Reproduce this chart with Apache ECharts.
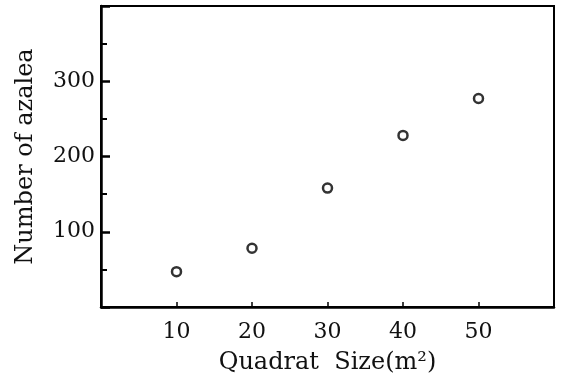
<!DOCTYPE html>
<html>
<head>
<meta charset="utf-8">
<script src="https://cdn.jsdelivr.net/npm/echarts@6/dist/echarts.min.js"></script>
<style>html,body{margin:0;padding:0;background:#fff}#c{width:563px;height:380px}</style>
</head>
<body>
<div id="c"></div>
<script>
const quadratSize = [10, 20, 30, 40, 50];
const azaleaCount = [47, 78, 158, 228, 277];
const xTickLabels = [10, 20, 30, 40, 50];
const yTickLabels = [100, 200, 300];

const chart = echarts.init(document.getElementById('c'));
const font = '"DejaVu Serif", "Liberation Serif", serif';
chart.setOption({
  backgroundColor: '#fff',
  animation: false,
  grid: { left: 101, top: 6, right: 9, bottom: 72, show: true, borderColor: '#000', borderWidth: 2, backgroundColor: 'transparent' },
  xAxis: {
    type: 'value', min: 0, max: 60, interval: 10,
    name: 'Quadrat  Size(m²)', nameLocation: 'middle', nameGap: 44,
    nameTextStyle: { fontFamily: font, fontSize: 24, color: '#111' },
    axisLine: { lineStyle: { color: '#000', width: 2.5 } },
    axisTick: { inside: true, length: 5, lineStyle: { color: '#000', width: 1.5 } },
    axisLabel: { margin: 14, fontFamily: font, fontSize: 22, color: '#111',
      formatter: v => xTickLabels.includes(v) ? String(v) : '' },
    splitLine: { show: false }
  },
  yAxis: {
    type: 'value', min: 0, max: 400, interval: 100,
    name: 'Number of azalea', nameLocation: 'middle', nameGap: 63,
    nameTextStyle: { fontFamily: font, fontSize: 24, color: '#111' },
    axisLine: { lineStyle: { color: '#000', width: 2.5 } },
    axisTick: { inside: true, length: 9, lineStyle: { color: '#000', width: 2.5 } },
    minorTick: { show: true, splitNumber: 2, length: 6, lineStyle: { color: '#000', width: 2 } },
    axisLabel: { margin: 6, fontFamily: font, fontSize: 22, color: '#111',
      formatter: v => yTickLabels.includes(v) ? String(v) : '' },
    splitLine: { show: false }
  },
  series: [{
    type: 'scatter',
    data: quadratSize.map((x, i) => [x, azaleaCount[i]]),
    symbol: 'circle', symbolSize: 9,
    itemStyle: { color: '#fff', borderColor: '#000', borderWidth: 2.5 }
  }]
});
</script>
</body>
</html>
